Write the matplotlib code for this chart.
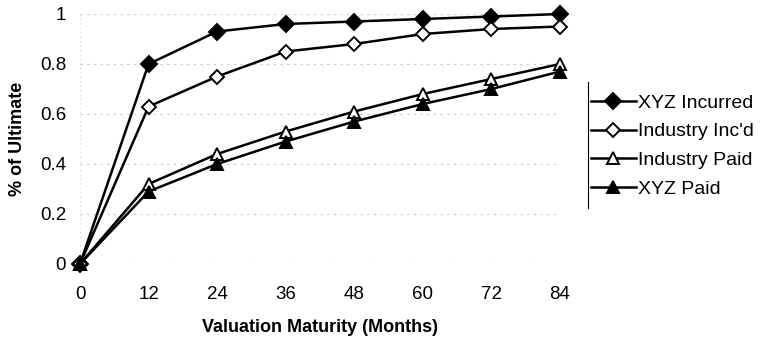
import numpy as np
import matplotlib.pyplot as plt
from matplotlib.lines import Line2D

plt.rcParams['font.family'] = ['Liberation Sans', 'DejaVu Sans']

# development ages (months) and cumulative % of ultimate
months = [0, 12, 24, 36, 48, 60, 72, 84]
xyz_incurred = [0, 0.80, 0.93, 0.96, 0.97, 0.98, 0.99, 1.00]
industry_incd = [0, 0.63, 0.75, 0.85, 0.88, 0.92, 0.94, 0.95]
industry_paid = [0, 0.32, 0.44, 0.53, 0.61, 0.68, 0.74, 0.80]
xyz_paid = [0, 0.29, 0.40, 0.49, 0.57, 0.64, 0.70, 0.77]

labels = ["XYZ Incurred", "Industry Inc'd", "Industry Paid", "XYZ Paid"]
series = [xyz_incurred, industry_incd, industry_paid, xyz_paid]
markers = ['D', 'D', '^', '^']
fills = ['black', 'white', 'white', 'black']
sizes = [8.5, 7.5, 9, 9]

fig = plt.figure(figsize=(7.71, 3.39), dpi=100)
ax = fig.add_axes([80 / 771, 1 - 264 / 339, 480 / 771, 250 / 339])

for y, m, fc, ms in zip(series, markers, fills, sizes):
    ax.plot(months, y, color='black', lw=1.8, marker=m, ms=ms,
            mfc=fc, mec='black', mew=1.4, clip_on=False, zorder=3)

ax.set_xlim(0, 84)
ax.set_ylim(0, 1)
ax.set_xticks(months)
ax.set_yticks([0, 0.2, 0.4, 0.6, 0.8, 1])
ax.set_yticklabels(['0', '0.2', '0.4', '0.6', '0.8', '1'])
ax.tick_params(labelsize=13.5, length=0)
ax.tick_params(axis='x', pad=16)
ax.tick_params(axis='y', pad=10)
for s in ax.spines.values():
    s.set_visible(False)
ax.grid(axis='y', color='#c8c8c8', ls=(0, (2, 4)), lw=0.8)
ax.axvline(0, color='#d0d0d0', ls=(0, (1, 3)), lw=0.8)

ax.set_xlabel('Valuation Maturity (Months)', fontsize=13, fontweight='bold', labelpad=11)
ax.set_ylabel('% of Ultimate', fontsize=13, fontweight='bold', labelpad=10)

handles = [Line2D([], [], color='black', lw=1.8, marker=m, ms=ms, mfc=fc,
                  mec='black', mew=1.4) for m, fc, ms in zip(markers, fills, sizes)]
leg = fig.legend(handles, labels, loc='upper left', bbox_to_anchor=(591 / 771, 1 - 94 / 339),
                 frameon=False, fontsize=14, handlelength=2.3, handletextpad=0.1,
                 labelspacing=0.57, borderaxespad=0, borderpad=0)
fig.add_artist(Line2D([588 / 771, 588 / 771], [1 - 82 / 339, 1 - 208 / 339],
                      color='black', lw=0.8, transform=fig.transFigure))

fig.savefig('out.png', dpi=100)
